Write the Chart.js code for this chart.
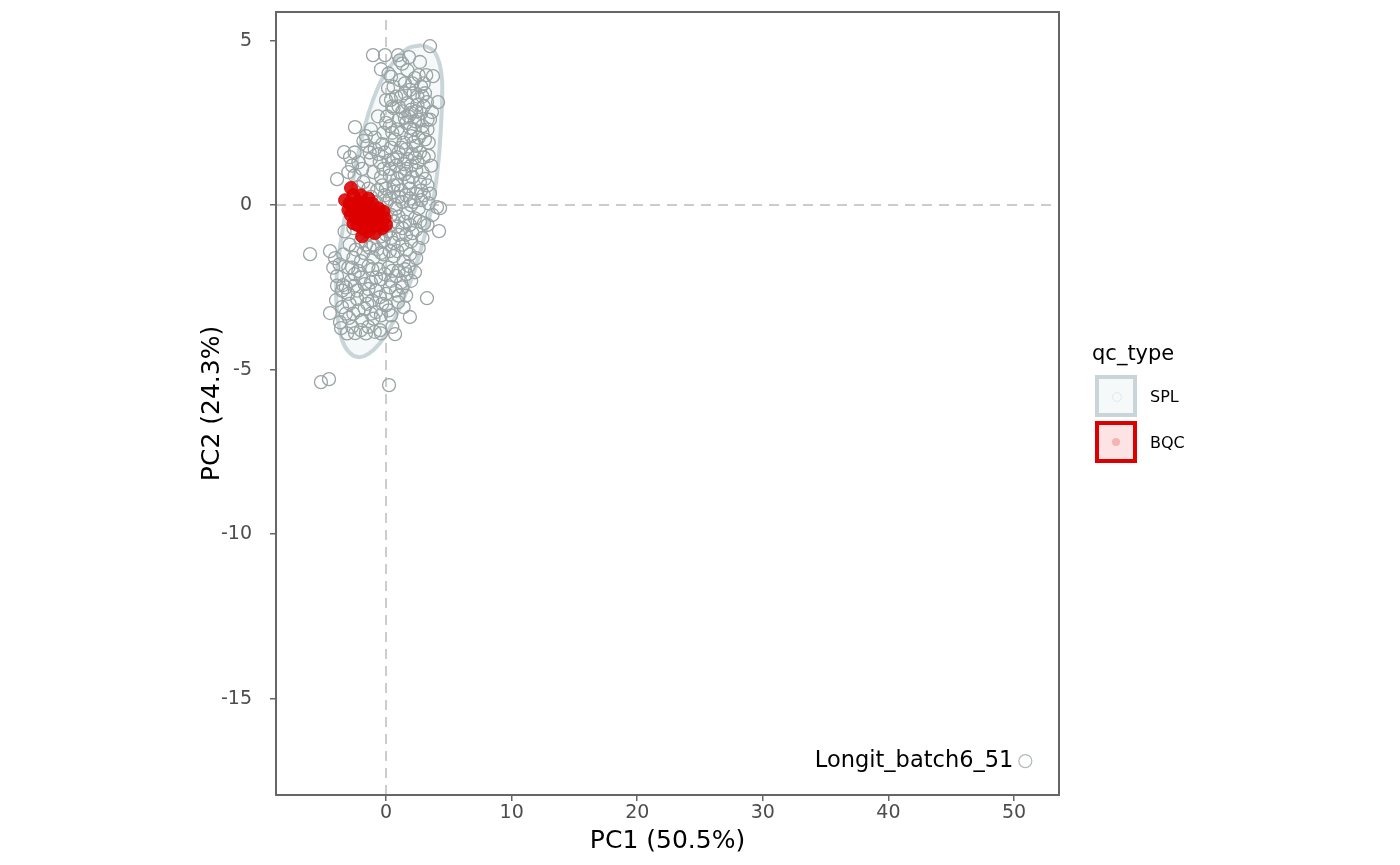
<!DOCTYPE html>
<html>
<head>
<meta charset="utf-8">
<title>PCA qc_type</title>
<script src="https://cdn.jsdelivr.net/npm/chart.js@4.4.1/dist/chart.umd.min.js"></script>
<style>
  body { margin: 0; background: #fff; font-family: "DejaVu Sans", sans-serif; }
  #wrap { position: relative; width: 1400px; height: 865px; }
  #legend { position: absolute; left: 1092px; top: 339px; color: #000; }
  #legend .ttl { font-size: 21px; height: 34px; line-height: 28px; }
  #legend .row { display: flex; align-items: center; height: 46px; }
  #legend .key { width: 34px; height: 34px; border: 4px solid; position: relative; margin-left: 3px; }
  #legend .key i { position: absolute; left: 13px; top: 13px; width: 8px; height: 8px; border-radius: 50%; }
  #legend .lab { font-size: 16px; margin-left: 13px; }
</style>
</head>
<body>
<div id="wrap">
  <canvas id="pcaChart" width="1400" height="865"></canvas>
  <div id="legend">
    <div class="ttl">qc_type</div>
    <div class="row"><div class="key" style="border-color:#c9d5d9;background:#f6f9fa"><i style="border:1px solid #e3e8e8"></i></div><span class="lab">SPL</span></div>
    <div class="row"><div class="key" style="border-color:#dd0000;background:#fde3e3"><i style="background:#f4b4b4"></i></div><span class="lab">BQC</span></div>
  </div>
</div>
<script>
// axis ranges + ticks
const xRange = [-8.76, 53.58];
const yRange = [-17.93, 5.87];
const xTicks = [0, 10, 20, 30, 40, 50];
const yTicks = [-15, -10, -5, 0, 5];

// SPL samples (PC1, PC2)
const splPoints = [
  [-1.04,4.56],[-0.08,4.56],[0.96,4.56],[3.5,4.83],[-0.4,4.13],[1.83,4.5],[1.1,4.4],[2.7,4.35],[1.3,4.3],
  [3.2,3.95],[3.74,3.92],[2.3,3.86],[2.6,3.95],[0.16,3.56],[1.9,3.5],[2.2,3.4],[1.5,3.4],[3.0,3.7],[2.8,3.6],[1.2,3.3],[0.8,3.3],[0.4,3.2],
  [4.14,3.13],[3.66,2.83],[3.26,3.13],[0,3.19],[1.7,3.1],[2.5,3.05],[3.0,3.0],[2.0,2.9],[1.3,2.85],[0.6,2.95],[2.8,2.8],
  [-2.47,2.37],[-0.64,2.7],[1.0,2.6],[1.6,2.5],[2.3,2.55],[2.9,2.4],[3.3,2.3],[0.3,2.4],[-0.2,2.2],[1.2,2.2],[2.0,2.1],[2.6,2.05],[0.7,2.0],[-1.2,2.3],[3.1,2.0],[-1.8,1.95],
  [-3.34,1.61],[-2.87,1.46],[-1.5,1.8],[-0.9,1.7],[-0.3,1.85],[0.4,1.75],[1.0,1.6],[1.6,1.7],[2.1,1.55],[2.7,1.6],[-2.2,1.3],[-1.2,1.4],[-0.5,1.3],[0.2,1.35],[0.8,1.2],[1.4,1.25],[2.0,1.2],[2.5,1.3],[3.0,1.45],
  [-3.9,0.79],[-3.0,1.0],[-2.5,0.9],[-1.8,0.7],[-1.0,1.0],[-0.4,0.85],[0.3,0.9],[0.9,0.8],[1.5,0.95],[2.1,0.85],[2.7,0.7],[3.3,0.6],[-1.4,0.5],[-0.7,0.45],[0,0.5],[0.6,0.4],[1.2,0.45],[1.9,0.5],[2.4,0.35],[3.0,0.3],
  [4.06,-0.06],[4.3,-0.09],[3.03,-0.55],[-0.8,0.1],[0,0.05],[0.7,0.0],[1.3,0.1],[2.0,0.0],[2.6,-0.1],[3.4,0.05],[0.4,-0.3],[1.0,-0.35],[1.7,-0.25],[2.3,-0.4],[-0.3,-0.25],
  [4.22,-0.79],[-3.3,-0.8],[-2.6,-0.7],[-1.5,-0.9],[-0.6,-0.7],[0.2,-0.8],[0.9,-0.65],[1.6,-0.9],[2.4,-0.75],[2.9,-1.0],[-2.9,-1.2],[-2.0,-1.1],[-1.0,-1.2],[-0.2,-1.1],[0.6,-1.15],[1.3,-1.2],[2.0,-1.1],
  [-6.05,-1.49],[-4.46,-1.4],[-4.06,-1.61],[-3.4,-1.5],[-2.6,-1.6],[-1.8,-1.45],[-1.0,-1.6],[-0.2,-1.5],[0.6,-1.55],[1.4,-1.7],[2.4,-1.61],[-3.0,-1.9],[-2.2,-2.0],[-1.4,-1.85],[-0.6,-1.95],[0.2,-1.9],[1.0,-2.0],[1.8,-1.85],
  [-3.9,-2.16],[-3.42,-2.43],[-2.8,-2.3],[-2.0,-2.2],[-1.2,-2.35],[-0.4,-2.25],[0.4,-2.3],[1.2,-2.35],[2.3,-2.04],[1.6,-2.1],[-3.0,-2.7],[-2.3,-2.6],[-1.6,-2.75],[-0.8,-2.6],[0,-2.7],[0.8,-2.6],
  [-4.46,-3.28],[-3.98,-2.89],[-3.5,-3.1],[-2.9,-3.0],[-2.2,-3.2],[-1.5,-3.0],[-0.8,-3.25],[0,-3.05],[0.96,-2.95],[1.9,-3.4],[3.26,-2.83],[1.6,-2.75],[-2.95,-3.43],[-1.9,-3.5],[-1.0,-3.45],[0.4,-3.35],
  [-3.66,-3.56],[-3.58,-3.74],[-2.47,-3.89],[-0.48,-3.8],[0.72,-3.92],[-1.4,-3.7],[-2.0,-3.8],[-5.18,-5.38],[-4.54,-5.29],[0.24,-5.47],[-0.4,-3.9],
  [0.5,3.0],[1.8,2.7],[2.2,2.3],[1.4,1.9],[0.9,2.3],[2.4,1.8],[1.1,1.0],[1.8,0.7],[0.6,0.6],[2.2,0.1],[1.5,-0.5],[0.8,-0.1],[0.3,1.1],[-0.1,0.3],[1.9,-0.6],[2.7,-0.5],
  [1.0,-0.9],[0.3,-1.4],[-0.5,-0.4],[1.7,1.4],[2.9,1.0],[0.1,2.7],[1.5,3.7],[2.5,3.3],[0.9,1.45],[-0.8,-2.2],[-1.7,-2.4],[-2.5,-2.1],[-1.1,-2.9],[-2.6,-3.3],[-0.3,-3.0],[0.5,-2.0],
  [1.3,-2.5],[-3.2,-2.5],[-2.0,-1.7],[-1.3,-1.3],[-0.4,-1.45],[0.0,-0.9],[-1.9,1.1],[-2.5,1.6],[-1.6,2.1],[-0.6,1.55],[2.0,2.8],[3.4,1.9],[3.6,1.2],[3.1,3.4],[3.3,2.6],[2.6,2.6],
  [-2.2,-0.4],[-0.9,-0.2],[1.1,3.8],[0.4,3.9],
  [0.2,4.0],[1.7,4.1],[2.1,3.7],[0.6,3.6],[2.9,3.3],[1.0,3.0],[2.4,2.85],[1.5,2.65],[0.0,2.5],[-0.9,2.05],[0.5,2.2],[1.9,2.35],[2.9,2.2],[3.5,2.6],[1.2,1.75],[2.2,1.9],
  [-0.1,1.6],[-1.3,1.6],[0.6,1.4],[2.3,1.45],[3.4,1.5],[-2.7,1.2],[-0.2,1.1],[1.6,1.1],[2.4,1.05],[3.1,0.8],[-2.2,0.55],[-0.3,0.6],[0.9,0.6],[1.6,0.3],[2.8,0.45],[3.5,0.35],
  [-1.2,0.25],[0.3,0.2],[1.0,0.25],[1.9,0.2],[2.8,0.15],[3.7,-0.3],[0.6,-0.5],[1.3,-0.7],[2.1,-0.85],[3.3,-0.6],[-0.4,-0.95],[0.4,-1.0],[1.6,-1.35],[2.6,-1.3],[-2.4,-1.35],[-1.6,-1.2],
  [-0.7,-1.35],[0.9,-1.4],[1.9,-1.5],[-3.7,-1.8],[-2.7,-1.9],[-1.1,-1.95],[-0.1,-2.1],[0.8,-2.15],[1.5,-1.95],[-3.5,-2.6],[-2.5,-2.45],[-1.4,-2.55],[-0.5,-2.8],[0.3,-2.5],[1.0,-2.75],[-3.2,-3.3],
  [-2.3,-2.85],[-1.7,-3.15],[-1.2,-3.3],[-0.4,-3.35],[0.2,-3.2],[-2.7,-3.7],[-1.6,-3.9],[-3.1,-3.9],[-0.9,-3.85],[0.5,-3.7],[-3.9,-2.45],[-4.2,-1.9],[2.0,-2.3],[1.4,-3.1]
];

// labelled outlier
const outlierName = 'Longit_batch6_51';
const outlierPoint = [50.9, -16.9];

// BQC samples
const bqcPoints = [
  [-2.79,0.52],[-2.6,0.3],[-3.26,0.15],[-2.9,0.05],[-2.5,-0.1],[-2.2,0.1],[-1.8,0.0],[-1.5,-0.1],[-1.1,0.05],[-0.9,-0.2],
  [-0.5,-0.3],[-0.1,-0.4],[0.0,-0.6],[-0.3,-0.7],[-0.7,-0.5],[-1.2,-0.4],[-1.6,-0.5],[-2.0,-0.3],[-2.4,-0.4],[-2.8,-0.3],
  [-3.0,-0.15],[-1.9,-0.7],[-1.5,-0.8],[-1.9,-0.95],[-1.2,-0.7],[-0.9,-0.85],[-0.4,-0.6],[-2.3,-0.6],[-2.6,-0.55],[-1.4,0.2],
  [-2.0,0.3],[-1.0,-0.3],[-0.6,-0.1],[-1.7,-0.25],[-2.2,-0.2],[-0.2,-0.2],[-1.3,-0.55],[-2.7,0.0],[-1.0,-0.6],[-1.6,0.05],[-0.8,-0.4]
];

// SPL confidence ellipse outline
const splEllipse = [
  [2.87,4.86],[3.74,4.71],[4.22,4.35],[4.46,3.80],[4.46,3.19],[4.38,2.43],[4.22,1.52],[3.90,0.46],[3.50,-0.30],[2.87,-1.22],
  [2.15,-2.13],[1.35,-2.89],[0.56,-3.56],[-0.48,-4.19],[-1.43,-4.53],[-2.23,-4.62],[-2.95,-4.47],[-3.50,-4.10],[-3.82,-3.50],
  [-3.98,-2.74],[-3.90,-1.98],[-3.58,-1.06],[-3.18,-0.15],[-2.71,0.61],[-2.23,1.52],[-1.67,2.43],[-1.04,3.19],[-0.24,3.89],
  [0.72,4.41],[1.75,4.77],[2.87,4.86]
];

const toXY = arr => arr.map(p => ({ x: p[0], y: p[1] }));

const boxPlugin = {
  id: 'panelBox',
  afterDraw(chart) {
    const { ctx, chartArea: a, scales } = chart;
    ctx.save();
    ctx.strokeStyle = '#666666';
    ctx.lineWidth = 2;
    ctx.strokeRect(a.left, a.top, a.right - a.left, a.bottom - a.top);
    // label next to the outlier
    const px = scales.x.getPixelForValue(outlierPoint[0]);
    const py = scales.y.getPixelForValue(outlierPoint[1]);
    ctx.fillStyle = '#000';
    ctx.font = '22.5px "DejaVu Sans"';
    ctx.textAlign = 'right';
    ctx.textBaseline = 'middle';
    ctx.fillText(outlierName, px - 12, py);
    ctx.restore();
  }
};

// no extra room for the end labels, the panel box is placed by layout padding only
const noScalePad = s => { s.paddingTop = 0; s.paddingBottom = 0; s.paddingLeft = 0; s.paddingRight = 0; };

const ctx = document.getElementById('pcaChart').getContext('2d');
const pcaChart = new Chart(ctx, {
  type: 'scatter',
  data: {
    datasets: [
      {
        label: 'BQC',
        data: toXY(bqcPoints),
        pointRadius: 6.5,
        pointBackgroundColor: 'rgba(220,0,0,0.88)',
        pointBorderColor: 'rgba(220,0,0,0.88)',
        pointBorderWidth: 1
      },
      {
        label: 'SPL',
        data: toXY(splPoints),
        pointRadius: 6.5,
        pointBackgroundColor: 'rgba(0,0,0,0)',
        pointBorderColor: '#9aa4a4',
        pointBorderWidth: 1.3
      },
      {
        label: 'outlier',
        data: toXY([outlierPoint]),
        pointRadius: 6.5,
        pointBackgroundColor: 'rgba(0,0,0,0)',
        pointBorderColor: '#b4baba',
        pointBorderWidth: 1.2
      },
      {
        label: 'vline',
        data: [{ x: 0, y: yRange[0] }, { x: 0, y: yRange[1] }],
        showLine: true,
        pointRadius: 0,
        borderColor: '#cccccc',
        borderWidth: 2,
        borderDash: [10, 7]
      },
      {
        label: 'hline',
        data: [{ x: xRange[0], y: 0 }, { x: xRange[1], y: 0 }],
        showLine: true,
        pointRadius: 0,
        borderColor: '#cccccc',
        borderWidth: 2,
        borderDash: [10, 7]
      },
      {
        label: 'SPL ellipse',
        data: toXY(splEllipse),
        showLine: true,
        pointRadius: 0,
        tension: 0.35,
        borderColor: '#c9d5d9',
        borderWidth: 4,
        backgroundColor: 'rgba(214,226,230,0.22)',
        fill: 'shape'
      }
    ]
  },
  options: {
    responsive: false,
    animation: false,
    layout: { padding: { left: 193, right: 341, top: 12, bottom: 9 } },
    plugins: {
      legend: { display: false },
      tooltip: { enabled: false }
    },
    scales: {
      x: {
        min: xRange[0],
        max: xRange[1],
        afterBuildTicks: s => { s.ticks = xTicks.map(v => ({ value: v })); },
        afterFit: s => { s.height = 61; noScalePad(s); },
        grid: { drawOnChartArea: false, color: '#666666', tickLength: 6, lineWidth: 1.5 },
        border: { display: false },
        ticks: { color: '#4d4d4d', font: { family: 'DejaVu Sans', size: 19 }, padding: 1, maxRotation: 0 },
        title: { display: true, text: 'PC1 (50.5%)', color: '#000', font: { family: 'DejaVu Sans', size: 25 }, padding: { top: 0, bottom: 0 } }
      },
      y: {
        min: yRange[0],
        max: yRange[1],
        afterBuildTicks: s => { s.ticks = yTicks.map(v => ({ value: v })); },
        afterFit: s => { s.width = 83; noScalePad(s); },
        grid: { drawOnChartArea: false, color: '#666666', tickLength: 6, lineWidth: 1.5 },
        border: { display: false },
        ticks: { color: '#4d4d4d', font: { family: 'DejaVu Sans', size: 19 }, padding: 18 },
        title: { display: true, text: 'PC2 (24.3%)', color: '#000', font: { family: 'DejaVu Sans', size: 25 }, padding: { top: 4, bottom: 4 } }
      }
    }
  },
  plugins: [boxPlugin]
});
</script>
</body>
</html>
